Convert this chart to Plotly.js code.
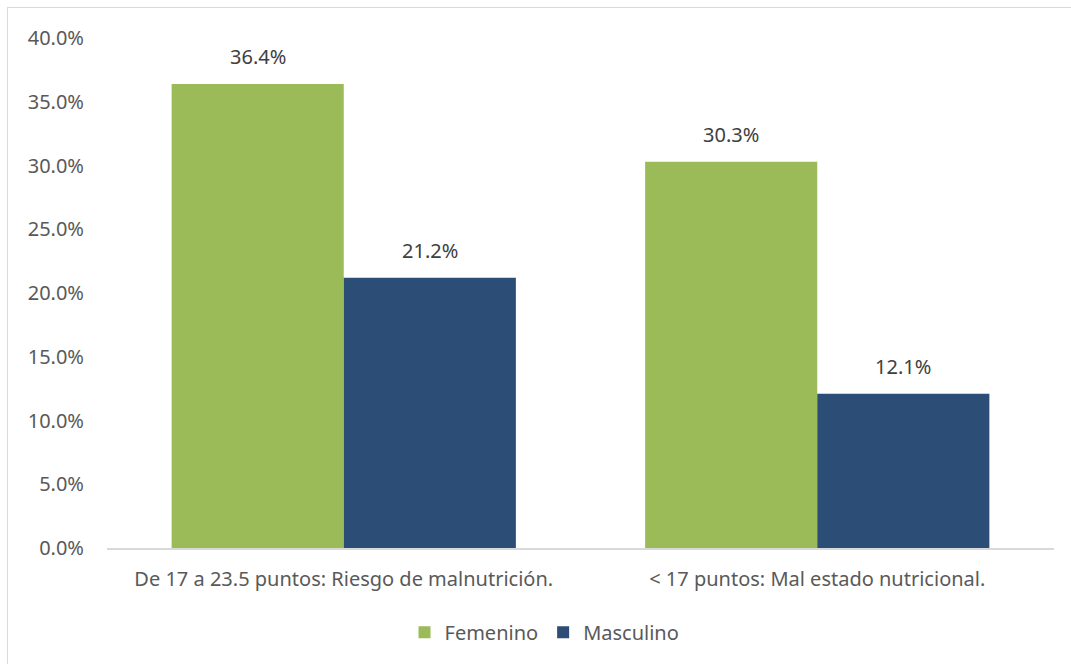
<!DOCTYPE html>
<html>
<head>
<meta charset="utf-8">
<script src="https://cdn.plot.ly/plotly-3.0.1.min.js"></script>
<style>
html,body{margin:0;padding:0;background:#fff;overflow:hidden;}
#wrap{position:relative;width:1071px;height:664px;overflow:hidden;}
#chart{width:1071px;height:664px;}
#frame{position:absolute;left:7px;top:7px;width:1100px;height:700px;border-left:1.5px solid #d9d9d9;border-top:1.5px solid #d9d9d9;pointer-events:none;box-sizing:border-box;}
</style>
</head>
<body>
<div id="wrap"><div id="chart"></div><div id="frame"></div></div>
<script>
const categories = ["De 17 a 23.5 puntos: Riesgo de malnutrición.", "< 17 puntos: Mal estado nutricional."];
const femenino = [0.364, 0.303];
const masculino = [0.212, 0.121];
const seriesNames = ["Femenino", "Masculino"];
const yTicks = [0, 0.05, 0.10, 0.15, 0.20, 0.25, 0.30, 0.35, 0.40];

const FONT = "Noto Sans, Open Sans, sans-serif";
const colors = ["#9BBB59", "#2C4D75"];
const FS = 20;

const traces = [femenino, masculino].map((vals, i) => ({
  type: "bar",
  name: seriesNames[i],
  x: categories,
  y: vals,
  marker: {color: colors[i], line: {width: 0}},
  hoverinfo: "none"
}));

const annotations = [];
[femenino, masculino].forEach((vals, i) => {
  vals.forEach((v, j) => {
    annotations.push({
      x: categories[j], y: v, xref: "x", yref: "y",
      text: (v * 100).toFixed(1) + "%",
      showarrow: false,
      xshift: i === 0 ? -86 : 86,
      yshift: 27,
      font: {family: FONT, size: FS, color: "#404040"}
    });
  });
});

const layout = {
  width: 1071, height: 664,
  margin: {l: 107, r: 17, t: 38, b: 116},
  paper_bgcolor: "#fff", plot_bgcolor: "#fff",
  barmode: "group",
  bargap: 0.273, bargroupgap: 0,
  font: {family: FONT, size: FS, color: "#595959"},
  xaxis: {
    showgrid: false, zeroline: false, showline: true,
    linecolor: "#d9d9d9", linewidth: 1.5,
    ticks: "", tickfont: {size: FS, color: "#595959"},
    ticklabelstandoff: 12
  },
  yaxis: {
    range: [0, 0.4], tickvals: yTicks, tickformat: ".1%",
    showgrid: false, zeroline: false, showline: false,
    ticks: "", tickfont: {size: FS, color: "#595959"},
    ticklabelstandoff: 22
  },
  showlegend: true,
  legend: {
    orientation: "h", x: 0.462, xanchor: "center", y: -0.165, yanchor: "middle",
    font: {size: FS, color: "#595959"}, itemwidth: 30, traceorder: "normal"
  },
  annotations: annotations
};

Plotly.newPlot("chart", traces, layout, {displayModeBar: false, staticPlot: true});
</script>
</body>
</html>
